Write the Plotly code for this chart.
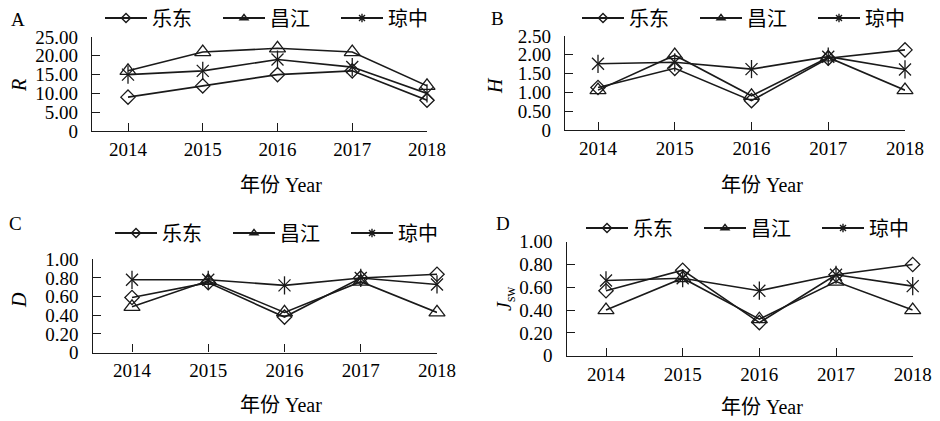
import plotly.graph_objects as go

# The page body adds an 8px offset; the figure is sized to fill the 940x421 window.
OFF = 8
W, H = 940 - OFF, 421 - OFF

years = ["2014", "2015", "2016", "2017", "2018"]
sites = ["乐东", "昌江", "琼中"]

# Panel A: R
R_ledong = [9.0, 12.0, 15.0, 16.0, 8.2]
R_changjiang = [16.0, 21.0, 22.0, 21.0, 12.0]
R_qiongzhong = [15.0, 16.0, 19.0, 17.0, 10.0]
R_ticks = [0, 5, 10, 15, 20, 25]
R_ticktext = ["0", "5.00", "10.00", "15.00", "20.00", "25.00"]

# Panel B: H
H_ledong = [1.13, 1.64, 0.78, 1.91, 2.13]
H_changjiang = [1.06, 1.99, 0.91, 1.93, 1.06]
H_qiongzhong = [1.76, 1.80, 1.62, 1.95, 1.61]
H_ticks = [0, 0.5, 1.0, 1.5, 2.0, 2.5]
H_ticktext = ["0", "0.50", "1.00", "1.50", "2.00", "2.50"]

# Panel C: D
D_ledong = [0.59, 0.75, 0.38, 0.80, 0.84]
D_changjiang = [0.49, 0.77, 0.43, 0.76, 0.43]
D_qiongzhong = [0.78, 0.78, 0.72, 0.80, 0.73]
D_ticks = [0, 0.2, 0.4, 0.6, 0.8, 1.0]
D_ticktext = ["0", "0.20", "0.40", "0.60", "0.80", "1.00"]

# Panel D: Jsw
J_ledong = [0.57, 0.75, 0.29, 0.71, 0.80]
J_changjiang = [0.40, 0.68, 0.32, 0.65, 0.40]
J_qiongzhong = [0.66, 0.68, 0.57, 0.71, 0.61]
J_ticks = D_ticks
J_ticktext = D_ticktext

SERIF = "Liberation Serif"
CJK = "Liberation Serif, Noto Sans CJK SC"
LC = "#1a1a1a"


def fx(px):
    return (px - OFF) / W


def fy(py):
    return 1 - (py - OFF) / H


panels = [
    dict(letter="A", ytitle="<i>R</i>", data=[R_ledong, R_changjiang, R_qiongzhong],
         ticks=R_ticks, ticktext=R_ticktext, ymax=25,
         box=(92, 427, 37, 131, 128), leg=(100, 18), lpos=(18, 20), ypos=(19, 86), xpos=(281, 185)),
    dict(letter="B", ytitle="<i>H</i>", data=[H_ledong, H_changjiang, H_qiongzhong],
         ticks=H_ticks, ticktext=H_ticktext, ymax=2.5,
         box=(565, 905, 36, 130, 598), leg=(577, 18), lpos=(497, 18), ypos=(495, 85), xpos=(762, 185)),
    dict(letter="C", ytitle="<i>D</i>", data=[D_ledong, D_changjiang, D_qiongzhong],
         ticks=D_ticks, ticktext=D_ticktext, ymax=1.0,
         box=(92.5, 437, 259.3, 352.5, 132), leg=(110, 233), lpos=(15, 223), ypos=(19, 300), xpos=(281, 405)),
    dict(letter="D", ytitle="<i>J</i><sub>sw</sub>", data=[J_ledong, J_changjiang, J_qiongzhong],
         ticks=J_ticks, ticktext=J_ticktext, ymax=1.0,
         box=(566.5, 912.7, 241.7, 355.7, 606), leg=(581, 228), lpos=(503, 223), ypos=(505, 298), xpos=(762, 407)),
]

symbols = ["diamond-open", "triangle-up-open", "x-thin-open"]
sizes = [11, 14, 12]

fig = go.Figure()
layout = dict(
    width=W, height=H, margin=dict(l=0, r=0, t=0, b=0, pad=0, autoexpand=False),
    paper_bgcolor="white", plot_bgcolor="white", showlegend=True,
)
annotations = []

for i, p in enumerate(panels):
    n = i + 1
    xa = "x" if n == 1 else f"x{n}"
    ya = "y" if n == 1 else f"y{n}"
    leg = "legend" if n == 1 else f"legend{n}"
    x0, x1, yt, yb, xf = p["box"]
    spacing = (x1 - xf) / 4.0
    left = -(xf - x0) / spacing

    for k, (vals, name) in enumerate(zip(p["data"], sites)):
        fig.add_trace(go.Scatter(
            x=years, y=vals, mode="lines+markers", name=name, showlegend=False,
            xaxis=xa, yaxis=ya, cliponaxis=False,
            line=dict(color=LC, width=1.6),
            marker=dict(symbol=symbols[k], size=sizes[k], color=LC,
                        line=dict(color=LC, width=1.3)),
        ))
        if k == 2:
            fig.add_trace(go.Scatter(
                x=years, y=vals, mode="markers", showlegend=False,
                xaxis=xa, yaxis=ya, cliponaxis=False,
                marker=dict(symbol="line-ns-open", size=13, color=LC,
                            line=dict(color=LC, width=1.3)),
            ))
    leg_symbols = ["diamond-open", "triangle-up-open", "asterisk-open"]
    for k, name in enumerate(sites):
        fig.add_trace(go.Scatter(
            x=[None], y=[None], mode="lines+markers", name=name, legend=leg,
            xaxis=xa, yaxis=ya,
            line=dict(color=LC, width=1.8),
            marker=dict(symbol=leg_symbols[k], size=7, color=LC,
                        line=dict(color=LC, width=1.4)),
        ))

    axis_common = dict(showline=True, linecolor=LC, linewidth=1.3, ticks="inside",
                       ticklen=8, tickcolor=LC, tickwidth=1.3, showgrid=False,
                       zeroline=False, automargin=False,
                       tickfont=dict(family=SERIF, size=19, color="black"))
    layout["xaxis" if n == 1 else f"xaxis{n}"] = dict(
        axis_common, type="category", range=[left, 4],
        domain=[fx(x0), fx(x1)], anchor=ya, tickvals=years, ticklabelstandoff=1)
    layout["yaxis" if n == 1 else f"yaxis{n}"] = dict(
        axis_common, range=[0, p["ymax"]], domain=[fy(yb), fy(yt)],
        anchor=xa, tickvals=p["ticks"], ticktext=p["ticktext"], ticklabelstandoff=9)
    layout[leg] = dict(orientation="h", x=fx(p["leg"][0]), y=fy(p["leg"][1]),
                       xanchor="left", yanchor="middle", bgcolor="rgba(0,0,0,0)",
                       font=dict(family=CJK, size=20, color="black"),
                       itemwidth=42, entrywidth=61, entrywidthmode="pixels",
                       tracegroupgap=0, itemclick=False, borderwidth=0)

    annotations.append(dict(text=p["letter"], x=fx(p["lpos"][0]), y=fy(p["lpos"][1]),
                            xref="paper", yref="paper", showarrow=False,
                            xanchor="center", yanchor="middle",
                            font=dict(family=SERIF, size=19, color="black")))
    annotations.append(dict(text=p["ytitle"], x=fx(p["ypos"][0]), y=fy(p["ypos"][1]),
                            xref="paper", yref="paper", showarrow=False, textangle=-90,
                            xanchor="center", yanchor="middle",
                            font=dict(family=SERIF, size=20, color="black")))
    annotations.append(dict(text="年份 Year", x=fx(p["xpos"][0]), y=fy(p["xpos"][1]),
                            xref="paper", yref="paper", showarrow=False,
                            xanchor="center", yanchor="middle",
                            font=dict(family=CJK, size=20, color="black")))

layout["annotations"] = annotations
fig.update_layout(**layout)
fig.write_html("out.html")
